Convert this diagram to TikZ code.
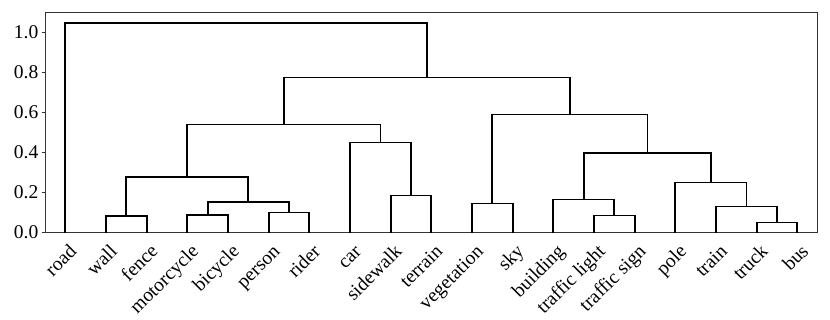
\documentclass[tikz,border=0pt]{standalone}
\usepackage{fontspec}
\setmainfont{Liberation Serif}
\begin{document}
\begin{tikzpicture}[x=1pt,y=-1pt,
  link/.style={line width=1.7pt, black, line join=miter, line cap=rect},
  frame/.style={line width=1pt, black!80},
  ytick/.style={line width=0.9pt, black!80},
  ylab/.style={anchor=east, inner sep=0pt, font=\fontsize{19.5}{22}\selectfont},
  leaflab/.style={anchor=base east, rotate=45, inner sep=0pt, font=\fontsize{19.5}{22}\selectfont}]
\useasboundingbox (0,0) rectangle (830,319);
% axes frame
\draw[frame] (45,12.7) rectangle (817.7,232);
% y ticks
\foreach \v/\t in {0/0.0,0.2/0.2,0.4/0.4,0.6/0.6,0.8/0.8,1.0/1.0}{
  \draw[ytick] (41.5,{232-200*\v}) -- (45,{232-200*\v});
  \node[ylab] (yl\t) at (38.5,{232-200*\v}) {\t};
}
% leaves
\coordinate (road) at (65.33,232);
\coordinate (wall) at (106.0,232);
\coordinate (fence) at (146.67,232);
\coordinate (motorcycle) at (187.33,232);
\coordinate (bicycle) at (228.0,232);
\coordinate (person) at (268.67,232);
\coordinate (rider) at (309.33,232);
\coordinate (car) at (350.0,232);
\coordinate (sidewalk) at (390.67,232);
\coordinate (terrain) at (431.33,232);
\coordinate (vegetation) at (472.0,232);
\coordinate (sky) at (512.67,232);
\coordinate (building) at (553.33,232);
\coordinate (tlight) at (594.0,232);
\coordinate (tsign) at (634.67,232);
\coordinate (pole) at (675.33,232);
\coordinate (train) at (716.0,232);
\coordinate (truck) at (756.67,232);
\coordinate (bus) at (797.33,232);
% merges
\coordinate (wf) at (126.33,216);
\coordinate (mb) at (207.67,215);
\coordinate (pr) at (289.0,212.6);
\coordinate (mbpr) at (248.33,202);
\coordinate (wfmbpr) at (187.33,177);
\coordinate (st) at (411.0,195.6);
\coordinate (cst) at (380.5,142.4);
\coordinate (left) at (283.92,124.4);
\coordinate (vs) at (492.33,203.4);
\coordinate (tlts) at (614.33,215.6);
\coordinate (btt) at (583.83,199.4);
\coordinate (tb) at (777.0,222.4);
\coordinate (ttb) at (746.5,206.6);
\coordinate (ptt) at (710.92,182.6);
\coordinate (bp) at (647.38,153);
\coordinate (right) at (569.85,114.4);
\coordinate (lr) at (426.88,77.6);
\coordinate (root) at (246.1,23);
% links
\draw[link] (wall) |- (wf) -| (fence);
\draw[link] (motorcycle) |- (mb) -| (bicycle);
\draw[link] (person) |- (pr) -| (rider);
\draw[link] (mb) |- (mbpr) -| (pr);
\draw[link] (wf) |- (wfmbpr) -| (mbpr);
\draw[link] (sidewalk) |- (st) -| (terrain);
\draw[link] (car) |- (cst) -| (st);
\draw[link] (wfmbpr) |- (left) -| (cst);
\draw[link] (vegetation) |- (vs) -| (sky);
\draw[link] (tlight) |- (tlts) -| (tsign);
\draw[link] (building) |- (btt) -| (tlts);
\draw[link] (truck) |- (tb) -| (bus);
\draw[link] (train) |- (ttb) -| (tb);
\draw[link] (pole) |- (ptt) -| (ttb);
\draw[link] (btt) |- (bp) -| (ptt);
\draw[link] (vs) |- (right) -| (bp);
\draw[link] (left) |- (lr) -| (right);
\draw[link] (road) |- (root) -| (lr);
% leaf labels
\foreach \c/\t in {road/road,wall/wall,fence/fence,motorcycle/motorcycle,bicycle/bicycle,person/person,rider/rider,car/car,sidewalk/sidewalk,terrain/terrain,vegetation/vegetation,sky/sky,building/building,tlight/traffic light,tsign/traffic sign,pole/pole,train/train,truck/truck,bus/bus}{
  \node[leaflab] (lab-\c) at ([xshift=12.3pt,yshift=-20.5pt]\c) {\t};
}
\end{tikzpicture}
\end{document}
